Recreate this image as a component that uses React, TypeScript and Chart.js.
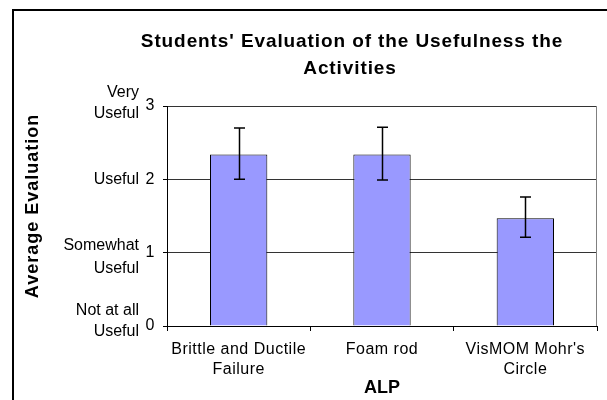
import { useEffect, useRef } from 'react';
import { Chart, registerables } from 'chart.js';

Chart.register(...registerables);

const categories: string[][] = [["Brittle and Ductile", "Failure"], ["Foam rod"], ["VisMOM Mohr's", "Circle"]];
const averages = [2.34, 2.34, 1.47];
const errorLow = [2.0, 1.99, 1.21];
const errorHigh = [2.7, 2.71, 1.76];
const yTickValues = [0, 1, 2, 3];
const yTickLabels: string[][] = [["Not at all", "Useful"], ["Somewhat", "Useful"], ["Useful"], ["Very", "Useful"]];
const titleLines = ["Students' Evaluation of the Usefulness the", "Activities"];
const yTitle = "Average Evaluation";
const xTitle = "ALP";

// layout-only: vertical offsets (px) of each descriptive label line relative to its tick
const yLabelOffsets: number[][] = [[-15, 6], [-7, 15.5], [0.5], [-13, 7.5]];

const FONT = '"Liberation Sans", Arial, sans-serif';

const decor = {
  id: 'decor',
  beforeLayout(chart: any) {
    chart.ctx.letterSpacing = '0.5px';
  },
  beforeDraw(chart: any) {
    chart.ctx.letterSpacing = '0.5px';
  },
  afterDatasetsDraw(chart: any) {
    const ctx = chart.ctx;
    const meta = chart.getDatasetMeta(0);
    const ys = chart.scales.y;
    ctx.save();
    ctx.strokeStyle = '#000';
    ctx.lineWidth = 1.5;
    meta.data.forEach((bar: any, i: number) => {
      const x = Math.round(bar.x) + 0.5;
      const t = ys.getPixelForValue(errorHigh[i]);
      const b = ys.getPixelForValue(errorLow[i]);
      ctx.beginPath();
      ctx.moveTo(x, t);
      ctx.lineTo(x, b);
      ctx.moveTo(x - 5.5, t);
      ctx.lineTo(x + 5.5, t);
      ctx.moveTo(x - 5.5, b);
      ctx.lineTo(x + 5.5, b);
      ctx.stroke();
    });
    ctx.restore();
  },
  afterDraw(chart: any) {
    const ctx = chart.ctx;
    const area = chart.chartArea;
    const ys = chart.scales.y;
    ctx.save();
    // outer chart border (left and top visible)
    ctx.strokeStyle = '#000';
    ctx.lineWidth = 2;
    ctx.beginPath();
    ctx.moveTo(13, 400);
    ctx.lineTo(13, 10);
    ctx.lineTo(607, 10);
    ctx.stroke();

    // plot area right border
    ctx.strokeStyle = '#808080';
    ctx.lineWidth = 1;
    ctx.beginPath();
    ctx.moveTo(Math.round(area.right) - 0.5, area.top);
    ctx.lineTo(Math.round(area.right) - 0.5, area.bottom);
    ctx.stroke();

    ctx.fillStyle = '#000';
    // title
    ctx.font = `bold 19px ${FONT}`;
    ctx.letterSpacing = '0.9px';
    ctx.textAlign = 'center';
    ctx.textBaseline = 'alphabetic';
    ctx.fillText(titleLines[0], 352, 47);
    ctx.fillText(titleLines[1], 350, 74);

    // x axis title
    ctx.font = `bold 18px ${FONT}`;
    ctx.letterSpacing = '0px';
    ctx.fillText(xTitle, (area.left + area.right) / 2, 393);

    // y axis title
    ctx.save();
    ctx.translate(33, 206);
    ctx.rotate(-Math.PI / 2);
    ctx.font = `bold 18px ${FONT}`;
    ctx.letterSpacing = '1px';
    ctx.textBaseline = 'middle';
    ctx.fillText(yTitle, 0, 0);
    ctx.restore();

    // descriptive y labels
    ctx.font = `16px ${FONT}`;
    ctx.letterSpacing = '0px';
    ctx.textAlign = 'right';
    ctx.textBaseline = 'middle';
    yTickValues.forEach((v, i) => {
      const py = ys.getPixelForValue(v);
      yTickLabels[i].forEach((line, j) => {
        ctx.fillText(line, 139, py + yLabelOffsets[i][j]);
      });
    });
    ctx.restore();
  },
};

export default function App() {
  const ref = useRef<HTMLCanvasElement | null>(null);
  useEffect(() => {
    document.body.style.margin = '0';
    const canvas = ref.current!;
    const chart = new Chart(canvas, {
      type: 'bar',
      data: {
        labels: categories,
        datasets: [
          {
            data: averages,
            backgroundColor: '#9999FF',
            borderColor: '#000',
            borderWidth: 1,
            barPercentage: 0.4,
            categoryPercentage: 1,
          },
        ],
      },
      options: {
        animation: false,
        responsive: false,
        devicePixelRatio: 1,
        layout: { padding: { left: 0, top: 106, right: 10, bottom: 0 } },
        plugins: {
          legend: { display: false },
          title: { display: false },
          tooltip: { enabled: false },
        },
        scales: {
          x: {
            afterFit: (s: any) => { s.height = 74; },
            grid: { display: true, drawOnChartArea: false, drawTicks: true, tickLength: 5, color: '#000', offset: true },
            border: { color: '#000', width: 1 },
            ticks: {
              color: '#000',
              font: { family: FONT, size: 16, lineHeight: 1.25 },
              padding: 9,
              maxRotation: 0,
              autoSkip: false,
            },
          },
          y: {
            min: 0,
            max: 3,
            afterFit: (s: any) => { s.width = 167; },
            grid: { color: '#333', tickColor: '#000', tickLength: 4, drawTicks: true },
            border: { color: '#000', width: 1 },
            ticks: {
              stepSize: 1,
              color: '#000',
              font: { family: FONT, size: 16 },
              padding: 8,
            },
          },
        },
      },
      plugins: [decor],
    });
    return () => chart.destroy();
  }, []);
  return <canvas ref={ref} width={607} height={400} style={{ display: 'block' }} />;
}
